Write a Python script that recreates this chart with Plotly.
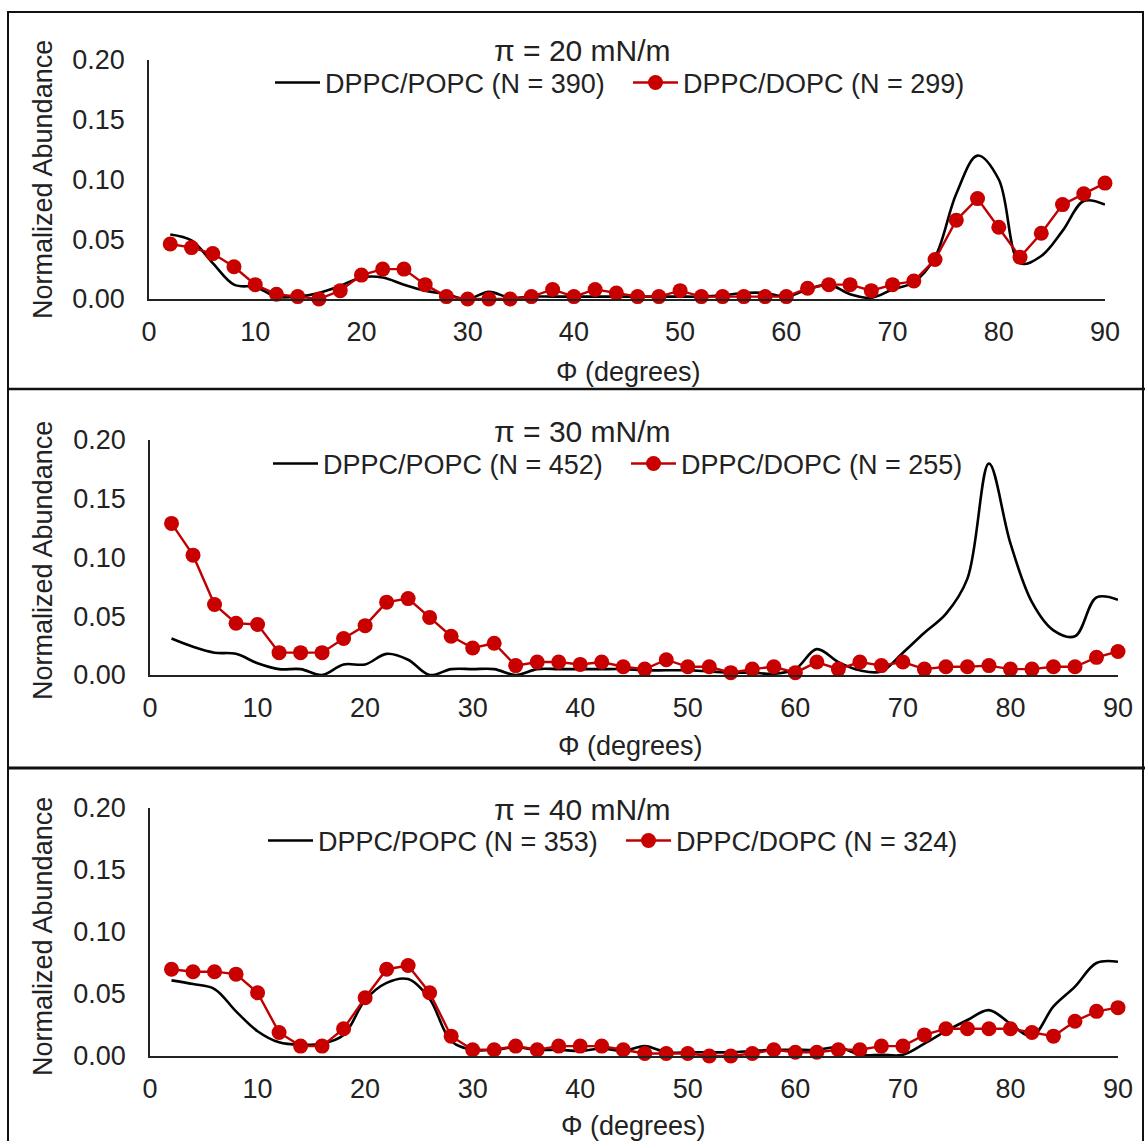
import plotly.graph_objects as go

# ---------------- data ----------------
phi = [2, 4, 6, 8, 10, 12, 14, 16, 18, 20, 22, 24, 26, 28, 30, 32, 34, 36, 38, 40, 42, 44, 46,
       48, 50, 52, 54, 56, 58, 60, 62, 64, 66, 68, 70, 72, 74, 76, 78, 80, 82, 84, 86, 88, 90]

popc_20 = [0.054, 0.049, 0.030, 0.012, 0.010, 0.002, 0.002, 0.005, 0.011, 0.018, 0.018, 0.012,
           0.007, 0.004, 0.000, 0.006, 0.001, 0.002, 0.002, 0.002, 0.002, 0.002, 0.002, 0.002,
           0.002, 0.002, 0.003, 0.005, 0.005, 0.002, 0.008, 0.012, 0.004, 0.001, 0.008, 0.014,
           0.035, 0.088, 0.120, 0.100, 0.030, 0.036, 0.057, 0.082, 0.079]
dopc_20 = [0.046, 0.043, 0.038, 0.027, 0.012, 0.004, 0.002, 0.000, 0.007, 0.020, 0.025, 0.025,
           0.012, 0.002, 0.000, 0.000, 0.000, 0.002, 0.008, 0.002, 0.008, 0.005, 0.002, 0.002,
           0.007, 0.002, 0.002, 0.002, 0.002, 0.002, 0.009, 0.012, 0.012, 0.007, 0.012, 0.015,
           0.033, 0.066, 0.084, 0.060, 0.035, 0.055, 0.079, 0.088, 0.097]

popc_30 = [0.031, 0.024, 0.019, 0.018, 0.010, 0.005, 0.005, 0.000, 0.009, 0.009, 0.018, 0.013,
           0.000, 0.005, 0.005, 0.005, 0.000, 0.005, 0.005, 0.005, 0.005, 0.005, 0.004, 0.004,
           0.004, 0.003, 0.002, 0.002, 0.001, 0.005, 0.022, 0.011, 0.004, 0.003, 0.019, 0.036,
           0.052, 0.082, 0.180, 0.112, 0.062, 0.038, 0.033, 0.066, 0.064]
dopc_30 = [0.129, 0.102, 0.060, 0.044, 0.043, 0.019, 0.019, 0.019, 0.031, 0.042, 0.062, 0.065,
           0.049, 0.033, 0.023, 0.027, 0.008, 0.011, 0.011, 0.009, 0.011, 0.007, 0.005, 0.013,
           0.007, 0.007, 0.002, 0.005, 0.007, 0.002, 0.011, 0.005, 0.011, 0.008, 0.011, 0.005,
           0.007, 0.007, 0.008, 0.005, 0.005, 0.007, 0.007, 0.015, 0.020]

popc_40 = [0.061, 0.058, 0.054, 0.036, 0.020, 0.011, 0.009, 0.010, 0.017, 0.045, 0.059, 0.062,
           0.046, 0.012, 0.005, 0.005, 0.007, 0.005, 0.005, 0.004, 0.006, 0.004, 0.008, 0.003,
           0.003, 0.003, 0.003, 0.004, 0.005, 0.005, 0.005, 0.007, 0.001, 0.001, 0.001, 0.010,
           0.020, 0.029, 0.037, 0.026, 0.016, 0.040, 0.056, 0.075, 0.076]
dopc_40 = [0.070, 0.068, 0.068, 0.066, 0.051, 0.019, 0.008, 0.008, 0.022, 0.047, 0.070, 0.073,
           0.051, 0.016, 0.005, 0.005, 0.008, 0.005, 0.008, 0.008, 0.008, 0.005, 0.002, 0.002,
           0.002, 0.000, 0.000, 0.002, 0.005, 0.003, 0.003, 0.005, 0.005, 0.008, 0.008, 0.017,
           0.022, 0.022, 0.022, 0.022, 0.019, 0.016, 0.028, 0.036, 0.039]

titles = ["π = 20 mN/m", "π = 30 mN/m", "π = 40 mN/m"]
popc_names = ["DPPC/POPC (N = 390)", "DPPC/POPC (N = 452)", "DPPC/POPC (N = 353)"]
dopc_names = ["DPPC/DOPC (N = 299)", "DPPC/DOPC (N = 255)", "DPPC/DOPC (N = 324)"]
y_ticks = [0.00, 0.05, 0.10, 0.15, 0.20]
x_ticks = [0, 10, 20, 30, 40, 50, 60, 70, 80, 90]
x_title = "Φ (degrees)"
y_title = "Normalized Abundance"

popc = [popc_20, popc_30, popc_40]
dopc = [dopc_20, dopc_30, dopc_40]

# ---------------- layout geometry (page pixels) ----------------
W, H = 1145, 1141
FONT = "Liberation Sans, Arial, sans-serif"
TXT = "#222222"
RED = "#C00000"
FS = 27

panels = [
    dict(x0=149, x1=1105, ytop=60, ybot=299, ty=51, ly=83, lx=270, xty=372, xtx=628, yty=180),
    dict(x0=150, x1=1118, ytop=440, ybot=675, ty=431, ly=464, lx=268, xty=746, xtx=630, yty=561),
    dict(x0=150, x1=1118, ytop=808, ybot=1056, ty=809, ly=841, lx=263, xty=1126, xtx=633, yty=937),
]

def px(x):
    return x / W

def py(y):
    return 1 - y / H

fig = go.Figure()
annotations = []
layout_axes = {}
for i, p in enumerate(panels):
    k = "" if i == 0 else str(i + 1)
    xa, ya = "x" + k, "y" + k
    leg = "legend" + k
    fig.add_trace(go.Scatter(
        x=phi, y=popc[i], mode="lines", name=popc_names[i],
        line=dict(color="black", width=2.6, shape="spline", smoothing=1.0),
        xaxis=xa, yaxis=ya, legend=leg, cliponaxis=False))
    fig.add_trace(go.Scatter(
        x=phi, y=dopc[i], mode="lines+markers", name=dopc_names[i],
        line=dict(color=RED, width=2.4),
        marker=dict(color="#C80000", size=15, line=dict(color=RED, width=0)),
        xaxis=xa, yaxis=ya, legend=leg, cliponaxis=False))

    layout_axes["xaxis" + k] = dict(
        domain=[px(p["x0"]), px(p["x1"])], range=[0, 90], anchor=ya, automargin=False,
        tickvals=x_ticks, ticks="outside", ticklen=8, tickcolor="rgba(0,0,0,0)",
        showline=True, linecolor="#222222", linewidth=1.6, showgrid=False, zeroline=False,
        tickfont=dict(family=FONT, size=FS, color=TXT))
    layout_axes["yaxis" + k] = dict(
        domain=[py(p["ybot"]), py(p["ytop"])], range=[0, 0.2], anchor=xa, automargin=False,
        tickvals=y_ticks, tickformat=".2f", ticks="outside", ticklen=17,
        tickcolor="rgba(0,0,0,0)",
        showline=True, linecolor="#222222", linewidth=1.6, showgrid=False, zeroline=False,
        tickfont=dict(family=FONT, size=FS, color=TXT))
    layout_axes[leg] = dict(
        orientation="h", xref="container", yref="container",
        x=px(p["lx"]), y=py(p["ly"]), xanchor="left", yanchor="middle",
        font=dict(family=FONT, size=FS, color=TXT), bgcolor="rgba(0,0,0,0)",
        itemwidth=45, entrywidth=298, entrywidthmode="pixels", tracegroupgap=0)

    annotations.append(dict(text=titles[i], x=px(582), y=py(p["ty"]), xref="paper", yref="paper",
                            showarrow=False, xanchor="center", yanchor="middle",
                            font=dict(family=FONT, size=30, color=TXT)))
    annotations.append(dict(text=x_title, x=px(p["xtx"]), y=py(p["xty"]), xref="paper",
                            yref="paper", showarrow=False, xanchor="center", yanchor="middle",
                            font=dict(family=FONT, size=FS, color=TXT)))
    annotations.append(dict(text=y_title, x=px(43), y=py(p["yty"]), xref="paper", yref="paper",
                            showarrow=False, xanchor="center", yanchor="middle", textangle=-90,
                            font=dict(family=FONT, size=FS, color=TXT)))

shapes = [
    dict(type="rect", xref="paper", yref="paper", x0=px(8), x1=px(1143), y0=py(1150), y1=py(12),
         line=dict(color="#111111", width=2)),
    dict(type="line", xref="paper", yref="paper", x0=px(8), x1=px(1145), y0=py(389), y1=py(389),
         line=dict(color="#111111", width=2.5)),
    dict(type="line", xref="paper", yref="paper", x0=px(8), x1=px(1145), y0=py(768), y1=py(768),
         line=dict(color="#111111", width=3)),
]

fig.update_layout(
    width=W, height=H, autosize=False,
    margin=dict(l=0, r=0, t=0, b=0, pad=0, autoexpand=False),
    paper_bgcolor="white", plot_bgcolor="white",
    annotations=annotations, shapes=shapes,
    font=dict(family=FONT, color=TXT),
    **layout_axes)

fig.write_html("out.html", config={"displayModeBar": False},
               post_script="document.body.style.margin='0px';")
